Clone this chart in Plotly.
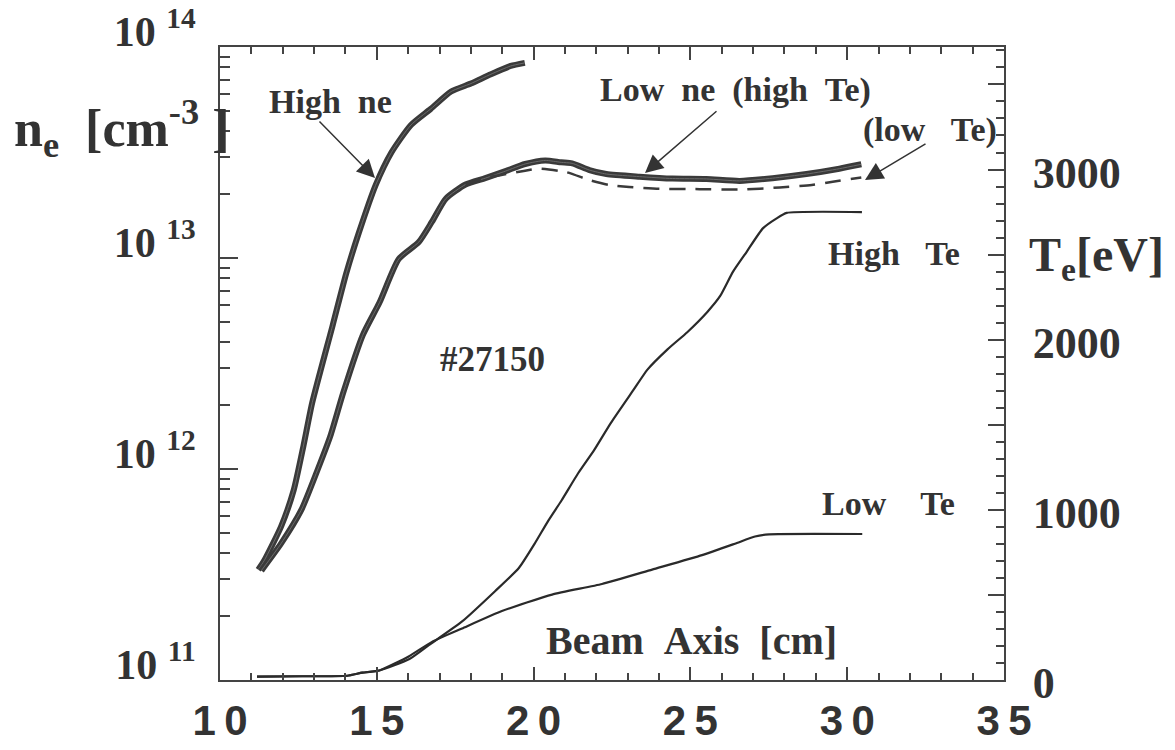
import plotly.graph_objects as go

# ---------------- data ----------------
x_high_ne = [11.22, 11.41, 11.95, 12.35, 12.66, 12.94, 13.59, 14.03, 14.43, 14.96, 15.47,
             16.09, 16.72, 17.37, 18.00, 18.64, 19.27, 19.72]
ne_high = [3.33e11, 3.68e11, 5.35e11, 7.94e11, 1.285e12, 2.06e12, 4.78e12, 8.5e12, 1.32e13,
           2.21e13, 3.17e13, 4.27e13, 5.09e13, 6.15e13, 6.71e13, 7.43e13, 8.13e13, 8.41e13]

x_low_ne = [11.32, 11.95, 12.59, 13.11, 13.52, 13.93, 14.55, 15.09, 15.70, 16.34, 16.76, 17.20,
            17.83, 18.46, 19.10, 19.73, 20.37, 20.88, 21.23, 21.78, 22.32, 23.38, 24.43, 25.51,
            26.57, 27.62, 28.70, 29.75, 30.45]
ne_low_hiTe = [3.30e11, 4.44e11, 6.38e11, 9.89e11, 1.435e12, 2.30e12, 4.30e12, 6.17e12, 9.89e12,
               1.19e13, 1.486e13, 1.91e13, 2.23e13, 2.39e13, 2.58e13, 2.79e13, 2.90e13, 2.84e13,
               2.81e13, 2.61e13, 2.50e13, 2.43e13, 2.38e13, 2.37e13, 2.32e13, 2.39e13, 2.50e13,
               2.65e13, 2.78e13]

x_low_ne_loTe = [17.83, 18.46, 19.73, 20.16, 21.05, 21.78, 22.41, 23.05, 24.01, 25.29, 26.57,
                 27.85, 28.87, 29.54, 30.45]
ne_low_loTe = [2.23e13, 2.39e13, 2.59e13, 2.65e13, 2.55e13, 2.34e13, 2.22e13, 2.17e13, 2.13e13,
               2.12e13, 2.11e13, 2.16e13, 2.22e13, 2.30e13, 2.41e13]

x_te_high = [11.18, 12.62, 14.06, 14.54, 15.08, 16.04, 16.67, 17.72, 18.77, 19.53, 20.03, 20.47,
             20.89, 21.42, 21.93, 22.46, 23.19, 23.63, 24.27, 24.90, 25.54, 25.95, 26.36, 26.80,
             27.31, 27.75, 28.07, 30.47]
te_high = [20, 22, 25, 43, 56, 123, 206, 344, 522, 658, 800, 937, 1055, 1215, 1351, 1510, 1706,
           1824, 1943, 2044, 2163, 2257, 2400, 2518, 2654, 2713, 2745, 2750]

x_te_low = [11.18, 12.62, 14.06, 14.54, 15.08, 16.03, 16.76, 17.72, 18.99, 20.59, 22.18, 23.78,
            25.37, 26.42, 27.06, 27.51, 30.48]
te_low = [20, 22, 25, 43, 56, 140, 224, 303, 405, 502, 564, 649, 734, 801, 843, 856, 858]

x_ticks = [10, 15, 20, 25, 30, 35]
x_ticktext = ["1\u20090", "1\u20095", "2\u20090", "2\u20095", "3\u20090", "3\u20095"]
ne_ticks = [1e11, 1e12, 1e13, 1e14]
ne_ticktext = ["10 <sup>11</sup>", "10 <sup>12</sup>", "10 <sup>13</sup>", "10 <sup>14</sup>"]
te_ticks = [0, 500, 1000, 1500, 2000, 2500, 3000, 3500]
te_ticktext = ["0", "", "1000", "", "2000", "", "3000", ""]

# ---------------- styling ----------------
INK = "#333333"
LINE = "#3a3a3a"
SERIF = "Liberation Serif"

fig = go.Figure()

for xs, ys in [(x_high_ne, ne_high), (x_low_ne, ne_low_hiTe)]:
    fig.add_trace(go.Scatter(x=xs, y=ys, mode="lines", line=dict(color=LINE, width=6, shape="spline", smoothing=0.6),
                             showlegend=False, hoverinfo="skip"))
    fig.add_trace(go.Scatter(x=xs, y=ys, mode="lines", line=dict(color="#8c8c8c", width=1, shape="spline", smoothing=0.6),
                             opacity=0.6, showlegend=False, hoverinfo="skip"))

fig.add_trace(go.Scatter(x=x_low_ne_loTe, y=ne_low_loTe, mode="lines",
                         line=dict(color=LINE, width=2.5, dash="16px,10px", shape="spline", smoothing=0.6),
                         showlegend=False, hoverinfo="skip"))

fig.add_trace(go.Scatter(x=x_te_high, y=te_high, mode="lines", yaxis="y2",
                         line=dict(color="#2a2a2a", width=2.2, shape="spline", smoothing=0.5),
                         showlegend=False, hoverinfo="skip"))
fig.add_trace(go.Scatter(x=x_te_low, y=te_low, mode="lines", yaxis="y2",
                         line=dict(color="#2a2a2a", width=2.2, shape="spline", smoothing=0.5),
                         showlegend=False, hoverinfo="skip"))

minor_ne = [m * 10 ** e for e in (11, 12, 13) for m in range(2, 10)]

fig.update_layout(
    width=1175, height=750,
    margin=dict(l=220, r=171, t=47, b=70),
    paper_bgcolor="white", plot_bgcolor="white",
    xaxis=dict(range=[10, 35], tickmode="array", tickvals=x_ticks, ticktext=x_ticktext,
               ticks="inside", ticklen=13, tickwidth=2, tickcolor="#444",
               minor=dict(ticks="inside", ticklen=7, tickwidth=1.5, dtick=1, tickcolor="#444"),
               showline=True, linewidth=2, linecolor="#444", mirror="ticks",
               showgrid=False, zeroline=False, ticklabelstandoff=3, automargin=False,
               tickfont=dict(family="Liberation Sans", size=42, color=INK, weight=700)),
    yaxis=dict(type="log", range=[11, 14], tickmode="array", tickvals=ne_ticks, ticktext=ne_ticktext,
               ticks="inside", ticklen=18, tickwidth=2, tickcolor="#444",
               minor=dict(ticks="inside", ticklen=10, tickwidth=1.5, tickmode="array",
                          tickvals=minor_ne, tickcolor="#444"),
               showline=True, linewidth=2, linecolor="#444", mirror=False,
               showgrid=False, zeroline=False, ticklabelstandoff=14, ticklabelshift=-16,
               automargin=False,
               tickfont=dict(family=SERIF, size=42, color=INK, weight=700)),
    yaxis2=dict(overlaying="y", side="right", range=[0, 3720], tickmode="array",
                tickvals=te_ticks, ticktext=te_ticktext,
                ticks="inside", ticklen=16, tickwidth=2, tickcolor="#444",
                minor=dict(ticks="inside", ticklen=8, tickwidth=1.5, dtick=100, tickcolor="#444"),
                showline=True, linewidth=2, linecolor="#444",
                showgrid=False, zeroline=False, ticklabelstandoff=18, ticklabelshift=3,
                automargin=False,
                tickfont=dict(family=SERIF, size=44, color=INK, weight=700)),
)

def px2paper(px, py):
    return (px - 220) / 784.0, (680 - py) / 633.0

def label(text, px, py, size=34, xanchor="center", family=SERIF):
    x, y = px2paper(px, py)
    fig.add_annotation(text=text, x=x, y=y, xref="paper", yref="paper", showarrow=False,
                       xanchor=xanchor, yanchor="middle",
                       font=dict(family=family, size=size, color=INK, weight=700))

NB = "\u00a0"
label("High" + NB * 2 + "ne", 330, 101)
label("Low" + NB * 2 + "ne" + NB * 2 + "(high" + NB * 2 + "Te)", 735, 90)
label("(low" + NB * 3 + "Te)", 930, 130)
label("High" + NB * 3 + "Te", 894, 253)
label("Low" + NB * 4 + "Te", 888, 503)
label("#27150", 492, 359, size=35)
label("Beam" + NB * 2 + "Axis" + NB * 2 + "[cm]", 691, 640, size=40)
label("n<sub>e</sub>" + NB * 2 + "[cm<sup>-3</sup>" + NB + "]", 12, 128, size=52, xanchor="left")
label("T<sub>e</sub>[eV]", 1027, 258, size=48, xanchor="left")

def arrow(tip_px, tip_py, tail_px, tail_py):
    x, y = px2paper(tip_px, tip_py)
    fig.add_annotation(text="", x=x, y=y, xref="paper", yref="paper", showarrow=True,
                       ax=tail_px - tip_px, ay=tail_py - tip_py, axref="pixel", ayref="pixel",
                       arrowhead=2, arrowsize=2.4, arrowwidth=1.5, arrowcolor="#333")

arrow(375, 178, 318, 120)
arrow(645, 173, 718, 110)
arrow(865, 180, 927, 143)

fig.write_html("out.html")
